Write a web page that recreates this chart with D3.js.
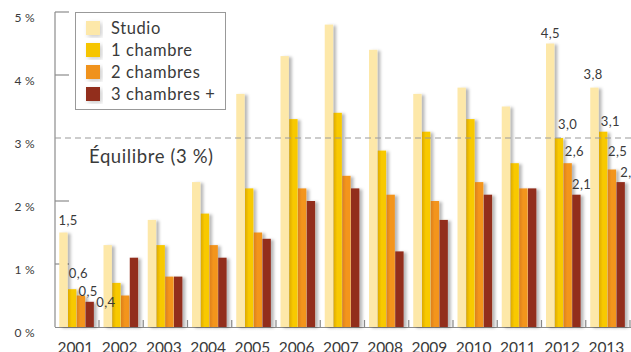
<!DOCTYPE html>
<html><head><meta charset="utf-8">
<script src="https://cdn.jsdelivr.net/npm/d3@7/dist/d3.min.js"></script>
<style>
html,body{margin:0;padding:0;background:#fff;}
svg{display:block;}
text{font-family:Lato,"DejaVu Sans",sans-serif;fill:#3a3a3a;font-weight:400;}
</style></head><body>
<svg id="c" width="631" height="352"></svg>
<script>
const years = ["2001","2002","2003","2004","2005","2006","2007","2008","2009","2010","2011","2012","2013"];
const seriesNames = ["Studio","1 chambre","2 chambres","3 chambres +"];
const studio   = [1.5,1.3,1.7,2.3,3.7,4.3,4.8,4.4,3.7,3.8,3.5,4.5,3.8];
const chambre1 = [0.6,0.7,1.3,1.8,2.2,3.3,3.4,2.8,3.1,3.3,2.6,3.0,3.1];
const chambre2 = [0.5,0.5,0.8,1.3,1.5,2.2,2.4,2.1,2.0,2.3,2.2,2.6,2.5];
const chambre3 = [0.4,1.1,0.8,1.1,1.4,2.0,2.2,1.2,1.7,2.1,2.2,2.1,2.3];
const yTicks = [0,1,2,3,4,5];
const equilibre = 3;
const equilibreLabel = "Équilibre (3 %)";
// labelled values: [yearIndex, seriesIndex, text]
const valueLabels = [
  [0,0,"1,5"],[0,1,"0,6"],[0,2,"0,5"],[0,3,"0,4"],
  [11,0,"4,5"],[11,1,"3,0"],[11,2,"2,6"],[11,3,"2,1"],
  [12,0,"3,8"],[12,1,"3,1"],[12,2,"2,5"],[12,3,"2,3"]
];
const series = [studio, chambre1, chambre2, chambre3];

const svg = d3.select("#c");
const defs = svg.append("defs");
const f = defs.append("filter").attr("id","sh").attr("x","-50%").attr("y","-10%").attr("width","250%").attr("height","120%");
f.append("feDropShadow").attr("dx",3).attr("dy",1).attr("stdDeviation",1.8).attr("flood-color","#000").attr("flood-opacity",0.28);
const lf = defs.append("filter").attr("id","lsh").attr("x","-20%").attr("y","-20%").attr("width","140%").attr("height","140%");
lf.append("feDropShadow").attr("dx",2).attr("dy",2).attr("stdDeviation",2).attr("flood-color","#000").attr("flood-opacity",0.2);

function grad(id, c1, c2){
  const g = defs.append("linearGradient").attr("id",id).attr("x1","0").attr("x2","1").attr("y1","0").attr("y2","0");
  g.append("stop").attr("offset","0").attr("stop-color",c1);
  g.append("stop").attr("offset","0.45").attr("stop-color",c2);
  g.append("stop").attr("offset","1").attr("stop-color",c2);
}
grad("g1","#DDA900","#F8C900");
grad("g2","#DD7F1B","#F3951F");
const fills = ["#FDE8A9","url(#g1)","url(#g2)","#922F1E"];
const legendColors = ["#FDE8A9","#F6C500","#F0921F","#922F1E"];

const x0 = d3.scaleBand().domain(years).range([54.75, 630]).padding(0);
const x1 = d3.scaleBand().domain(d3.range(4)).range([4.5, 39.5]).padding(0);
const y = d3.scaleLinear().domain([0,5]).range([327,12]);

// axes
const ax = svg.append("g").attr("stroke","#8c8c8c").attr("stroke-width",1.2).attr("fill","none");
ax.append("line").attr("x1",55).attr("x2",55).attr("y1",y(5)).attr("y2",y(0));
ax.append("line").attr("x1",55).attr("x2",631).attr("y1",y(0)+0.5).attr("y2",y(0)+0.5);
yTicks.filter(t=>t>0 && t!==equilibre).forEach(t=>{
  ax.append("line").attr("x1",55).attr("x2",69).attr("y1",y(t)).attr("y2",y(t));
});
years.forEach((yr,i)=>{
  const xx = x0(yr)+x0.bandwidth();
  ax.append("line").attr("x1",xx).attr("x2",xx).attr("y1",y(0)).attr("y2",y(0)-7);
});

// y tick labels
svg.append("g").selectAll("text").data(yTicks).join("text")
  .attr("x",35).attr("y",d=>y(d)+10).attr("text-anchor","end")
  .attr("font-size",12).attr("letter-spacing",0.3).text(d=>d+" %");

// bars
const bars = svg.append("g");
years.forEach((yr,i)=>{
  series.forEach((s,k)=>{
    bars.append("rect")
      .attr("x",x0(yr)+x1(k)).attr("width",x1.bandwidth()-0.4)
      .attr("y",y(s[i])).attr("height",y(0)-y(s[i]))
      .attr("fill",fills[k]).attr("filter","url(#sh)");
  });
});

// equilibre line
svg.append("line").attr("x1",55).attr("x2",631).attr("y1",y(equilibre)).attr("y2",y(equilibre))
  .attr("stroke","#999").attr("stroke-width",1.2).attr("stroke-dasharray","6,4");
svg.append("text").attr("x",89).attr("y",y(equilibre)+25).attr("font-size",18.5)
  .attr("letter-spacing",0.6).text(equilibreLabel);

// value labels (offset of each label from its bar's top centre)
const labOff = {"0-0":[4.5,-7.5],"0-1":[6,-11],"0-2":[7,0],"0-3":[16,5],
  "11-0":[0,-5.5],"11-1":[8.5,-9.5],"11-2":[6.5,-7],"11-3":[5,-6],
  "12-0":[-1.5,-8.5],"12-1":[7,-6],"12-2":[5.5,-13.5],"12-3":[9,-5.5]};
svg.append("g").selectAll("text").data(valueLabels).join("text")
  .attr("x",d=>x0(years[d[0]])+x1(d[1])+x1.bandwidth()/2+labOff[d[0]+"-"+d[1]][0])
  .attr("y",d=>y(series[d[1]][d[0]])+labOff[d[0]+"-"+d[1]][1])
  .attr("text-anchor","middle").attr("font-size",13).attr("letter-spacing",0.4).text(d=>d[2]);

// year labels
svg.append("g").selectAll("text").data(years).join("text")
  .attr("x",d=>x0(d)+x0.bandwidth()/2-1.5).attr("y",353)
  .attr("text-anchor","middle").attr("font-size",15.5).text(d=>d);

// legend
const lg = svg.append("g");
lg.append("rect").attr("x",75.5).attr("y",12.5).attr("width",150).attr("height",97)
  .attr("fill","#fff").attr("stroke","#999").attr("stroke-width",1);
seriesNames.forEach((n,k)=>{
  lg.append("rect").attr("x",86).attr("y",21+k*22).attr("width",14).attr("height",14)
    .attr("fill",legendColors[k]).attr("filter","url(#lsh)");
  lg.append("text").attr("x",111).attr("y",34+k*22).attr("font-size",16.5)
    .attr("letter-spacing",0.6).text(n);
});
</script></body></html>
